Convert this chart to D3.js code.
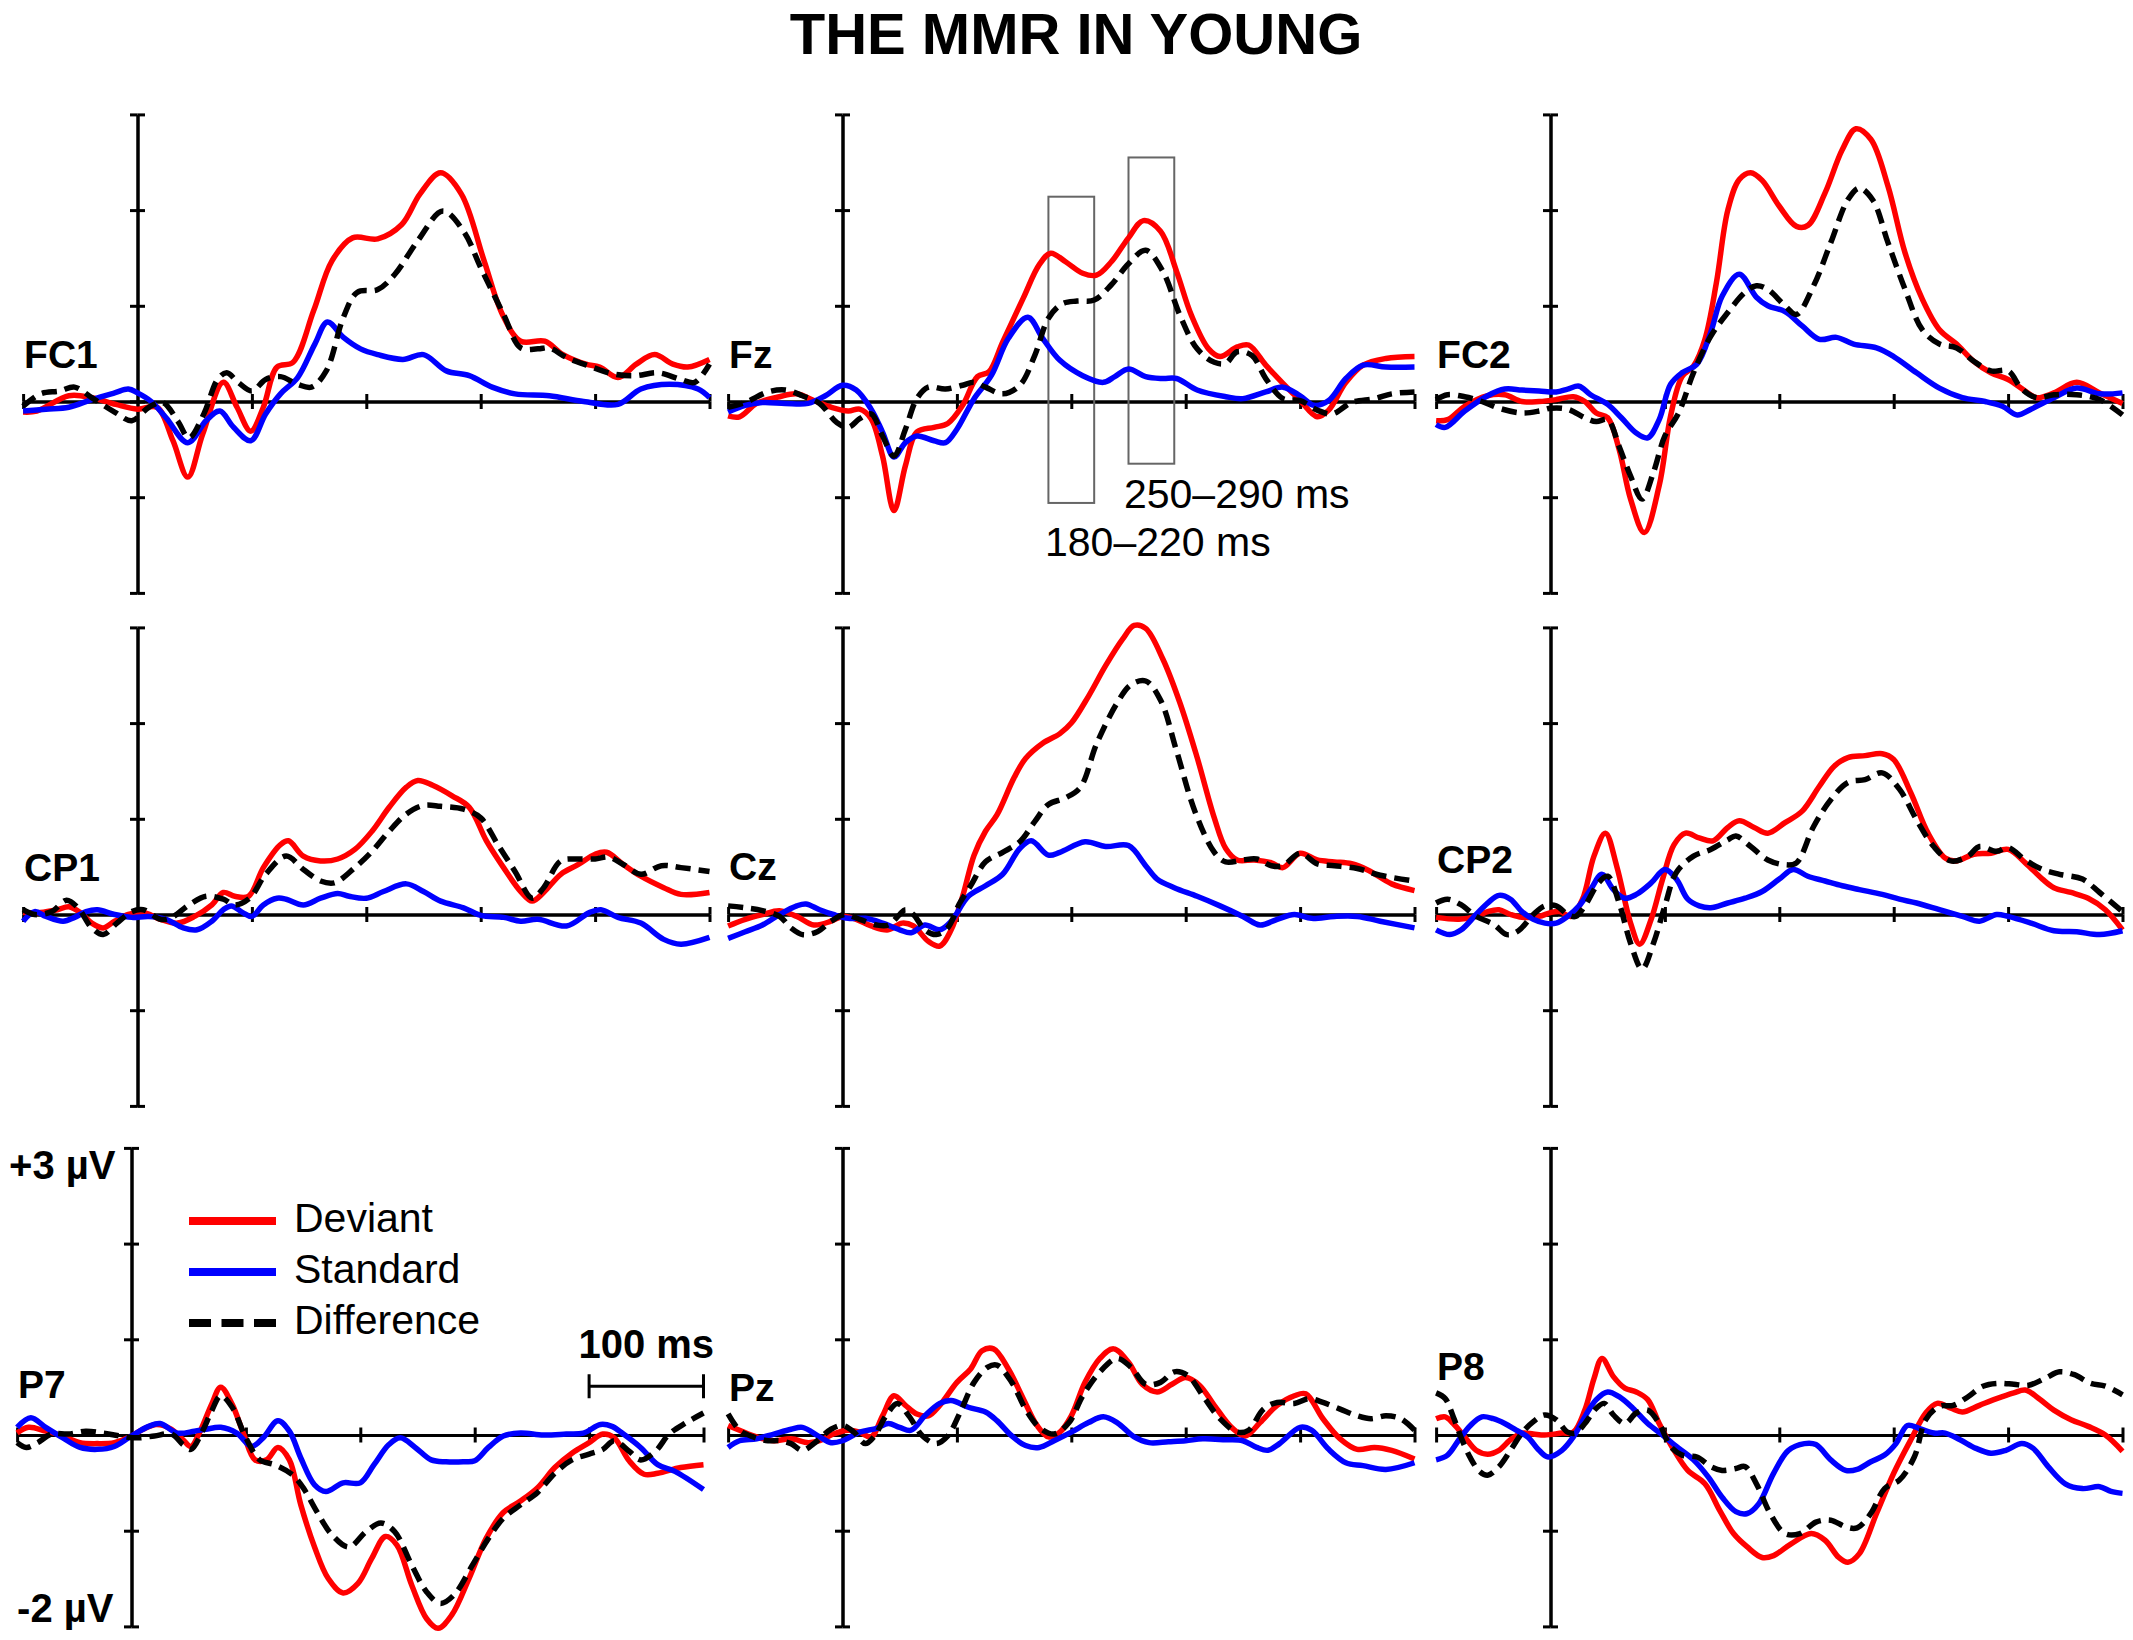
<!DOCTYPE html>
<html>
<head>
<meta charset="utf-8">
<script src="https://cdn.jsdelivr.net/npm/d3@7"></script>
<style>
  body { margin: 0; background: #fff; }
  text { font-family: 'Liberation Sans', Arial, sans-serif; }
</style>
</head>
<body>
<script>

// Channel names, in reading order (3 x 3 grid)
var channels = ['FC1', 'Fz', 'FC2', 'CP1', 'Cz', 'CP2', 'P7', 'Pz', 'P8'];

// Axis tick values
var timeTicks = [-100, 100, 200, 300, 400, 500];   // ms
var voltTicks = [-2, -1, 0, 1, 2, 3];              // µV

// Legend
var seriesNames = ['Deviant', 'Standard', 'Difference'];

// Analysis windows marked on Fz (ms) and their vertical extent (µV)
var windows = [[180, 220], [250, 290]];
var windowExtent = [[-1.06, 2.14], [-0.65, 2.55]];
var windowLabels = ['180–220 ms', '250–290 ms'];

// Waveforms: [time ms, amplitude µV]

var fc1Dev = [[-100,-0.11],[-88,-0.1],[-60,0.06],[-40,0.04],[-19,-0.03],[0,-0.08],[17,-0.06],[31,-0.41],[44,-0.79],[57,-0.34],[75,0.2],[87,-0.06],[99,-0.31],[110,-0.06],[122,0.36],[136,0.41],[154,0.95],[170,1.47],[188,1.71],[210,1.7],[231,1.85],[247,2.17],[265,2.39],[283,2.17],[303,1.47],[319,0.91],[335,0.63],[356,0.63],[372,0.49],[392,0.39],[404,0.36],[420,0.25],[436,0.39],[452,0.49],[468,0.39],[481,0.36],[500,0.44]];
var fc1Std = [[-100,-0.1],[-80,-0.08],[-60,-0.06],[-40,0.02],[-20,0.09],[-8,0.13],[0,0.09],[12,0],[25,-0.17],[44,-0.43],[60,-0.2],[72,-0.1],[84,-0.27],[99,-0.41],[112,-0.13],[125,0.08],[140,0.25],[155,0.6],[166,0.83],[180,0.67],[195,0.55],[210,0.49],[232,0.44],[250,0.49],[270,0.32],[290,0.27],[310,0.15],[330,0.08],[360,0.06],[390,0],[420,-0.03],[440,0.13],[465,0.18],[490,0.13],[500,0.04]];
var fc1Diff = [[-100,-0.05],[-85,0.08],[-68,0.11],[-55,0.15],[-40,0.04],[-20,-0.11],[-5,-0.2],[10,-0.06],[22,-0.01],[35,-0.2],[45,-0.38],[58,-0.13],[70,0.23],[78,0.3],[88,0.2],[100,0.11],[112,0.23],[125,0.26],[140,0.18],[152,0.15],[165,0.32],[180,0.88],[192,1.14],[210,1.17],[225,1.33],[245,1.68],[267,1.99],[285,1.78],[300,1.4],[320,0.91],[335,0.56],[350,0.55],[360,0.56],[375,0.46],[395,0.37],[415,0.29],[435,0.27],[455,0.3],[475,0.23],[487,0.2],[500,0.39]];

var fzDev = [[-100,-0.15],[-90,-0.16],[-75,-0.02],[-55,0.05],[-40,0.08],[-25,0.01],[-10,-0.06],[5,-0.1],[15,-0.08],[25,-0.18],[35,-0.57],[45,-1.14],[55,-0.67],[65,-0.32],[80,-0.27],[92,-0.23],[105,-0.04],[118,0.26],[128,0.31],[140,0.62],[158,1.08],[172,1.43],[182,1.55],[195,1.46],[210,1.34],[222,1.32],[235,1.46],[250,1.71],[263,1.89],[278,1.78],[292,1.36],[305,0.9],[320,0.55],[330,0.47],[345,0.57],[355,0.59],[370,0.38],[385,0.19],[400,0.01],[415,-0.16],[425,-0.09],[440,0.2],[455,0.38],[475,0.45],[500,0.47]];
var fzStd = [[-100,-0.11],[-85,-0.04],[-70,-0.01],[-50,-0.02],[-30,-0.02],[-15,0.06],[0,0.17],[12,0.12],[25,-0.08],[35,-0.32],[45,-0.58],[55,-0.43],[65,-0.36],[80,-0.41],[90,-0.43],[100,-0.29],[115,0.03],[130,0.27],[145,0.66],[162,0.88],[175,0.66],[190,0.43],[210,0.27],[228,0.2],[238,0.26],[250,0.34],[265,0.26],[280,0.24],[292,0.24],[310,0.12],[335,0.05],[350,0.03],[370,0.1],[385,0.15],[400,0.06],[412,-0.04],[425,0.01],[440,0.24],[455,0.38],[475,0.36],[500,0.36]];
var fzDiff = [[-100,-0.06],[-85,-0.01],[-65,0.1],[-50,0.12],[-35,0.06],[-20,-0.02],[-5,-0.22],[5,-0.27],[15,-0.18],[25,-0.13],[35,-0.36],[45,-0.57],[55,-0.29],[65,0.03],[75,0.15],[90,0.13],[105,0.17],[115,0.2],[125,0.15],[140,0.08],[155,0.17],[168,0.48],[180,0.87],[192,1.02],[205,1.05],[220,1.06],[235,1.22],[250,1.44],[265,1.58],[280,1.36],[295,0.9],[310,0.55],[325,0.41],[335,0.4],[345,0.52],[358,0.48],[370,0.24],[385,0.03],[400,0.01],[415,-0.09],[428,-0.13],[445,-0.01],[465,0.03],[480,0.08],[500,0.1]];

var fc2Dev = [[-100,-0.2],[-90,-0.19],[-75,-0.05],[-55,0.06],[-40,0.07],[-25,0],[-10,0],[5,0.02],[20,0.05],[30,0],[40,-0.12],[50,-0.17],[60,-0.5],[70,-1.02],[82,-1.37],[95,-0.88],[105,-0.15],[115,0.26],[125,0.37],[135,0.65],[145,1.24],[155,2.0],[165,2.32],[175,2.39],[185,2.31],[200,2.04],[215,1.83],[225,1.84],[240,2.18],[255,2.63],[267,2.85],[280,2.74],[295,2.25],[310,1.55],[325,1.07],[340,0.75],[355,0.6],[370,0.42],[385,0.3],[400,0.23],[415,0.11],[425,0.04],[440,0.09],[460,0.2],[480,0.09],[500,-0.02]];
var fc2Std = [[-100,-0.24],[-92,-0.27],[-75,-0.1],[-55,0.06],[-40,0.13],[-25,0.12],[-10,0.11],[5,0.1],[15,0.13],[25,0.16],[35,0.07],[50,-0.03],[62,-0.17],[75,-0.33],[85,-0.38],[95,-0.19],[105,0.18],[115,0.3],[128,0.39],[140,0.72],[150,1.1],[165,1.33],[180,1.09],[190,1.0],[205,0.94],[220,0.79],[235,0.65],[250,0.67],[265,0.6],[285,0.56],[300,0.47],[320,0.3],[340,0.14],[360,0.04],[380,0],[395,-0.05],[408,-0.14],[420,-0.08],[440,0.04],[460,0.14],[480,0.08],[500,0.09]];
var fc2Diff = [[-100,0.02],[-90,0.07],[-75,0.05],[-60,0],[-45,-0.07],[-25,-0.12],[-10,-0.1],[0,-0.07],[15,-0.08],[30,-0.17],[40,-0.21],[50,-0.19],[60,-0.47],[70,-0.78],[80,-1.02],[90,-0.74],[100,-0.36],[112,-0.12],[125,0.3],[140,0.68],[155,0.93],[170,1.14],[180,1.21],[190,1.17],[205,1.0],[215,0.91],[230,1.21],[245,1.66],[260,2.11],[270,2.23],[282,2.1],[295,1.66],[310,1.17],[325,0.75],[340,0.6],[355,0.56],[370,0.42],[385,0.32],[400,0.32],[412,0.13],[425,0.04],[440,0.07],[460,0.07],[480,0.02],[500,-0.14]];

var cp1Dev = [[-100,0.02],[-85,0.02],[-70,0.05],[-60,0.08],[-50,0.02],[-40,-0.09],[-30,-0.14],[-20,-0.07],[-8,0],[5,0.02],[20,-0.05],[35,-0.09],[50,-0.02],[65,0.1],[75,0.23],[85,0.19],[97,0.19],[110,0.49],[125,0.73],[132,0.77],[145,0.61],[160,0.56],[175,0.58],[190,0.68],[205,0.87],[220,1.12],[235,1.33],[245,1.4],[258,1.35],[275,1.24],[290,1.12],[305,0.77],[320,0.49],[335,0.24],[345,0.14],[355,0.23],[370,0.42],[385,0.52],[400,0.63],[410,0.65],[425,0.52],[440,0.4],[460,0.28],[475,0.21],[500,0.23]];
var cp1Std = [[-100,-0.07],[-90,0.03],[-80,-0.02],[-65,-0.07],[-55,-0.03],[-45,0.03],[-35,0.05],[-20,0],[-5,-0.03],[10,-0.02],[25,-0.05],[40,-0.14],[52,-0.16],[65,-0.07],[75,0.05],[82,0.09],[92,0.02],[100,-0.02],[110,0.1],[122,0.17],[130,0.16],[145,0.1],[160,0.17],[175,0.22],[185,0.19],[200,0.17],[215,0.24],[235,0.32],[250,0.24],[265,0.14],[285,0.07],[300,-0.01],[320,-0.03],[335,-0.07],[350,-0.05],[375,-0.12],[395,0.02],[405,0.05],[420,-0.03],[440,-0.09],[460,-0.26],[475,-0.31],[500,-0.24]];
var cp1Diff = [[-100,0.05],[-90,0],[-75,0.03],[-62,0.15],[-52,0.07],[-40,-0.14],[-30,-0.21],[-18,-0.09],[-5,0.03],[5,0.05],[20,-0.05],[30,-0.03],[45,0.1],[60,0.19],[75,0.16],[85,0.1],[98,0.17],[112,0.42],[130,0.61],[145,0.47],[160,0.35],[172,0.33],[190,0.49],[205,0.66],[220,0.87],[235,1.05],[250,1.14],[265,1.13],[285,1.1],[300,1.01],[315,0.73],[330,0.45],[345,0.17],[355,0.28],[370,0.56],[385,0.58],[400,0.58],[412,0.6],[425,0.52],[440,0.42],[458,0.51],[475,0.49],[500,0.45]];

var czDev = [[-100,-0.12],[-85,-0.05],[-70,0],[-55,0.04],[-40,-0.02],[-25,-0.11],[-10,-0.07],[0,-0.02],[12,-0.05],[25,-0.12],[40,-0.16],[52,-0.09],[62,-0.12],[75,-0.28],[85,-0.33],[95,-0.16],[105,0.19],[115,0.62],[125,0.87],[135,1.04],[150,1.43],[160,1.63],[175,1.79],[190,1.89],[200,2.0],[215,2.28],[230,2.6],[245,2.88],[255,3.02],[265,2.99],[280,2.67],[295,2.21],[310,1.64],[325,1.01],[335,0.69],[345,0.57],[360,0.57],[375,0.54],[385,0.49],[400,0.64],[415,0.57],[430,0.55],[445,0.53],[460,0.46],[480,0.32],[500,0.25]];
var czStd = [[-100,-0.25],[-85,-0.18],[-70,-0.11],[-55,0],[-40,0.09],[-32,0.11],[-20,0.05],[-8,0],[5,-0.04],[20,-0.04],[35,-0.09],[50,-0.16],[60,-0.19],[72,-0.11],[85,-0.16],[95,-0.07],[110,0.19],[125,0.3],[140,0.42],[155,0.69],[165,0.77],[180,0.62],[190,0.65],[212,0.76],[230,0.71],[250,0.72],[265,0.51],[275,0.37],[290,0.28],[310,0.19],[330,0.09],[350,-0.02],[365,-0.11],[380,-0.05],[395,0],[410,-0.04],[430,-0.02],[450,-0.02],[470,-0.07],[500,-0.14]];
var czDiff = [[-100,0.09],[-85,0.07],[-70,0.04],[-55,-0.02],[-45,-0.14],[-35,-0.21],[-22,-0.18],[-10,-0.07],[2,0],[15,-0.05],[30,-0.11],[40,-0.11],[50,0],[55,0.05],[62,0],[72,-0.16],[82,-0.21],[92,-0.14],[102,0.11],[112,0.3],[125,0.55],[140,0.65],[155,0.76],[168,0.97],[180,1.15],[195,1.22],[208,1.33],[222,1.78],[240,2.21],[252,2.4],[265,2.44],[278,2.24],[292,1.71],[308,1.08],[325,0.65],[335,0.55],[350,0.57],[362,0.58],[375,0.51],[385,0.51],[400,0.64],[415,0.53],[430,0.51],[450,0.48],[470,0.41],[500,0.35]];

var cp2Dev = [[-100,-0.03],[-80,-0.05],[-65,-0.02],[-55,0.03],[-45,0.05],[-35,0],[-25,-0.03],[-10,-0.02],[0,0.02],[8,0.03],[18,-0.02],[28,0.16],[38,0.61],[48,0.85],[58,0.5],[70,-0.09],[78,-0.31],[88,-0.05],[98,0.37],[108,0.73],[118,0.85],[130,0.8],[142,0.77],[155,0.91],[165,0.98],[178,0.91],[190,0.85],[205,0.96],[220,1.08],[235,1.34],[248,1.55],[260,1.64],[275,1.66],[290,1.68],[300,1.62],[315,1.27],[330,0.85],[345,0.59],[355,0.56],[370,0.63],[385,0.64],[400,0.68],[415,0.54],[430,0.37],[440,0.28],[455,0.23],[470,0.17],[485,0.05],[500,-0.16]];
var cp2Std = [[-100,-0.16],[-88,-0.21],[-78,-0.16],[-65,0],[-55,0.12],[-45,0.2],[-35,0.16],[-25,0.03],[-15,-0.05],[-5,-0.09],[5,-0.09],[15,-0.02],[25,0.09],[35,0.26],[45,0.42],[55,0.26],[65,0.17],[75,0.21],[88,0.33],[100,0.47],[110,0.37],[120,0.16],[130,0.09],[140,0.07],[155,0.12],[170,0.17],[185,0.24],[200,0.37],[212,0.47],[225,0.4],[240,0.35],[255,0.3],[270,0.26],[290,0.21],[305,0.16],[320,0.12],[340,0.05],[360,-0.02],[375,-0.07],[390,0],[400,-0.02],[420,-0.09],[440,-0.17],[460,-0.18],[480,-0.21],[500,-0.17]];
var cp2Diff = [[-100,0.12],[-90,0.16],[-78,0.1],[-65,-0.02],[-50,-0.1],[-38,-0.21],[-28,-0.17],[-15,0],[-5,0.09],[5,0.09],[15,0],[22,-0.02],[30,0.09],[42,0.33],[50,0.4],[60,0.12],[70,-0.3],[80,-0.57],[90,-0.3],[100,0.09],[110,0.44],[125,0.61],[140,0.68],[155,0.78],[162,0.82],[175,0.71],[190,0.57],[205,0.52],[215,0.54],[230,0.92],[245,1.2],[260,1.38],[275,1.41],[290,1.48],[305,1.31],[320,0.99],[335,0.71],[350,0.56],[365,0.61],[375,0.71],[390,0.66],[400,0.7],[415,0.57],[430,0.47],[445,0.42],[465,0.37],[480,0.23],[500,0.03]];

var p7Dev = [[-100,0.02],[-90,0.08],[-75,0.04],[-60,-0.01],[-45,-0.08],[-30,-0.09],[-15,-0.08],[0,-0.01],[10,0.06],[22,0.11],[35,0.06],[45,-0.05],[52,-0.12],[60,0.04],[70,0.32],[78,0.5],[88,0.32],[98,0.01],[108,-0.26],[118,-0.26],[128,-0.13],[138,-0.26],[148,-0.73],[160,-1.17],[172,-1.5],[185,-1.65],[198,-1.55],[210,-1.29],[222,-1.06],[232,-1.15],[245,-1.57],[258,-1.92],[268,-2.02],[280,-1.88],[295,-1.5],[310,-1.08],[325,-0.81],[340,-0.69],[355,-0.55],[370,-0.34],[385,-0.19],[400,-0.08],[412,0.01],[422,-0.03],[435,-0.27],[448,-0.41],[460,-0.4],[480,-0.34],[500,-0.31]];
var p7Std = [[-100,0.08],[-88,0.18],[-75,0.08],[-60,-0.03],[-45,-0.13],[-30,-0.15],[-15,-0.12],[0,-0.01],[15,0.09],[25,0.12],[40,0.02],[55,0.04],[65,0.06],[78,0.08],[92,0.02],[105,-0.12],[115,-0.03],[128,0.15],[138,0.04],[148,-0.24],[160,-0.52],[170,-0.59],[185,-0.5],[200,-0.5],[212,-0.31],[225,-0.1],[235,-0.03],[248,-0.13],[262,-0.26],[275,-0.28],[290,-0.28],[300,-0.27],[312,-0.13],[325,-0.01],[340,0.02],[360,0],[380,0.01],[395,0.02],[410,0.11],[420,0.09],[430,0.01],[445,-0.13],[460,-0.31],[475,-0.38],[500,-0.57]];
var p7Diff = [[-100,-0.08],[-92,-0.13],[-82,-0.08],[-70,0.01],[-55,0.01],[-40,0.04],[-25,0.02],[-10,-0.01],[5,-0.03],[20,-0.01],[35,0.01],[45,-0.1],[52,-0.15],[62,0.04],[70,0.25],[78,0.41],[88,0.29],[100,-0.03],[112,-0.26],[125,-0.31],[140,-0.41],[150,-0.55],[162,-0.8],[175,-1.04],[190,-1.17],[205,-1.01],[218,-0.92],[230,-1.01],[245,-1.36],[258,-1.64],[270,-1.76],[282,-1.67],[298,-1.36],[312,-1.08],[325,-0.87],[340,-0.73],[355,-0.6],[370,-0.4],[385,-0.26],[400,-0.2],[412,-0.15],[422,-0.06],[435,-0.17],[445,-0.26],[458,-0.17],[470,0.01],[485,0.13],[500,0.23]];

var pzDev = [[-100,0.1],[-90,0.05],[-75,-0.02],[-60,-0.06],[-45,-0.04],[-30,-0.08],[-20,-0.06],[-8,0.01],[5,0.05],[15,0.03],[25,-0.02],[35,0.2],[45,0.41],[55,0.31],[65,0.22],[75,0.2],[85,0.31],[100,0.55],[112,0.69],[122,0.88],[132,0.9],[145,0.69],[158,0.38],[170,0.1],[180,-0.02],[190,0.03],[200,0.2],[212,0.55],[225,0.8],[237,0.9],[250,0.76],[262,0.53],[275,0.45],[288,0.53],[300,0.6],[312,0.52],[325,0.31],[340,0.08],[352,-0.01],[365,0.13],[380,0.31],[395,0.41],[405,0.43],[420,0.17],[435,-0.04],[450,-0.15],[465,-0.13],[480,-0.16],[500,-0.25]];
var pzStd = [[-100,-0.13],[-90,-0.06],[-75,-0.04],[-60,0.01],[-45,0.06],[-35,0.08],[-20,-0.02],[-10,-0.08],[0,-0.06],[15,0.03],[30,0.07],[40,0.12],[50,0.08],[60,0.05],[72,0.2],[85,0.33],[95,0.36],[110,0.29],[125,0.24],[135,0.15],[148,-0.01],[160,-0.11],[172,-0.13],[185,-0.06],[200,0.03],[215,0.13],[228,0.19],[240,0.13],[255,-0.02],[268,-0.08],[285,-0.07],[300,-0.06],[315,-0.04],[335,-0.05],[350,-0.06],[362,-0.13],[372,-0.16],[382,-0.09],[400,0.08],[410,0.05],[425,-0.15],[440,-0.29],[455,-0.32],[475,-0.36],[500,-0.29]];
var pzDiff = [[-100,0.22],[-90,0.05],[-78,-0.02],[-65,-0.06],[-55,-0.06],[-45,-0.09],[-35,-0.16],[-25,-0.09],[-10,0.06],[0,0.1],[10,0.03],[20,-0.09],[28,-0.01],[38,0.2],[48,0.33],[58,0.2],[70,-0.01],[82,-0.09],[92,-0.01],[103,0.24],[115,0.55],[127,0.71],[135,0.73],[148,0.55],[160,0.27],[172,0.08],[185,0.01],[198,0.13],[210,0.41],[225,0.66],[240,0.8],[252,0.71],[265,0.53],[278,0.55],[290,0.66],[302,0.62],[315,0.41],[330,0.17],[345,0.03],[355,0.05],[368,0.27],[380,0.34],[395,0.33],[408,0.38],[420,0.34],[435,0.27],[450,0.2],[462,0.17],[475,0.2],[488,0.17],[500,0.05]];

var p8Dev = [[-100,0.17],[-92,0.19],[-85,0.12],[-75,-0.02],[-65,-0.16],[-55,-0.2],[-45,-0.16],[-35,-0.05],[-25,0.02],[-15,0.01],[-5,0],[10,0.02],[20,0.03],[30,0.26],[38,0.59],[45,0.8],[55,0.61],[65,0.49],[75,0.45],[85,0.37],[95,0.12],[108,-0.16],[120,-0.37],[135,-0.51],[148,-0.79],[160,-1.03],[172,-1.17],[185,-1.28],[195,-1.26],[210,-1.14],[228,-1.03],[240,-1.1],[252,-1.28],[260,-1.33],[270,-1.24],[285,-0.82],[300,-0.4],[315,-0.05],[328,0.23],[338,0.33],[350,0.28],[360,0.24],[375,0.31],[390,0.38],[405,0.44],[415,0.47],[428,0.37],[440,0.26],[455,0.16],[470,0.09],[485,0],[500,-0.17]];
var p8Std = [[-100,-0.26],[-90,-0.21],[-80,-0.05],[-70,0.1],[-60,0.19],[-50,0.17],[-40,0.12],[-30,0.05],[-20,-0.02],[-10,-0.16],[-2,-0.23],[10,-0.16],[20,-0.02],[30,0.19],[40,0.37],[50,0.45],[60,0.4],[72,0.28],[85,0.12],[98,0],[110,-0.12],[125,-0.26],[138,-0.44],[150,-0.65],[162,-0.8],[172,-0.82],[182,-0.72],[195,-0.4],[208,-0.16],[222,-0.09],[232,-0.1],[245,-0.26],[258,-0.37],[268,-0.36],[280,-0.28],[292,-0.21],[302,-0.09],[312,0.1],[322,0.07],[335,0.02],[345,0.02],[358,-0.05],[372,-0.14],[385,-0.19],[398,-0.16],[412,-0.09],[422,-0.14],[435,-0.33],[450,-0.51],[465,-0.56],[480,-0.54],[490,-0.59],[500,-0.61]];
var p8Diff = [[-100,0.44],[-92,0.38],[-85,0.19],[-78,-0.03],[-70,-0.24],[-62,-0.38],[-55,-0.42],[-45,-0.33],[-35,-0.16],[-25,0.02],[-15,0.14],[-5,0.21],[5,0.16],[15,0.03],[22,0.02],[30,0.12],[40,0.28],[47,0.33],[55,0.21],[65,0.12],[75,0.23],[85,0.26],[95,0.12],[105,-0.12],[115,-0.21],[128,-0.23],[140,-0.33],[150,-0.37],[162,-0.35],[170,-0.33],[180,-0.51],[192,-0.82],[205,-1.03],[218,-1.03],[232,-0.91],[245,-0.89],[258,-0.96],[268,-0.97],[280,-0.82],[292,-0.56],[305,-0.47],[318,-0.23],[328,0.16],[340,0.3],[352,0.31],[365,0.4],[378,0.51],[392,0.54],[405,0.53],[418,0.52],[432,0.59],[445,0.66],[458,0.63],[472,0.54],[485,0.51],[500,0.42]];

var waves = {
  FC1: [fc1Dev, fc1Std, fc1Diff],
  Fz:  [fzDev,  fzStd,  fzDiff],
  FC2: [fc2Dev, fc2Std, fc2Diff],
  CP1: [cp1Dev, cp1Std, cp1Diff],
  Cz:  [czDev,  czStd,  czDiff],
  CP2: [cp2Dev, cp2Std, cp2Diff],
  P7:  [p7Dev,  p7Std,  p7Diff],
  Pz:  [pzDev,  pzStd,  pzDiff],
  P8:  [p8Dev,  p8Std,  p8Diff]
};

//Sets dimensions
var width = 2133,
  height = 1640;

var msPx = 114.4,   // pixels per 100 ms
  uvPx = 95.7;      // pixels per µV

var colZero = [137.5, 842.5, 1550.5],
  rowZero = [401.5, 914.5, 1435];

// label baseline offset above the zero line, per panel
var labelRise = { FC1: 34, Fz: 34, FC2: 34, CP1: 34, Cz: 35, CP2: 42, P7: 37, Pz: 34, P8: 55 };

var colors = ['#ff0000', '#0000ff', '#000000'];

var svg = d3.select('body')
  .append('svg')
  .attr('width', width)
  .attr('height', height);

svg.append('rect')
  .attr('width', width)
  .attr('height', height)
  .attr('fill', '#fff');

//Title
svg.append('text')
  .attr('x', 1076)
  .attr('y', 54)
  .attr('text-anchor', 'middle')
  .style('font-size', '58px')
  .style('font-weight', 'bold')
  .text('THE MMR IN YOUNG');

var scales = {};

channels.forEach(function(name, i) {
  var col = i % 3,
    row = Math.floor(i / 3);

  var x0 = colZero[col] + (name === 'P7' ? -6 : 0),
    y0 = rowZero[row];

  var x = d3.scaleLinear().domain([-100, 500]).range([x0 - msPx, x0 + 5 * msPx]);
  var y = d3.scaleLinear().domain([-2, 3]).range([y0 + 2 * uvPx, y0 - 3 * uvPx]);
  scales[name] = { x: x, y: y };

  var g = svg.append('g');

  // axes: ticks on both sides of each line
  [d3.axisBottom, d3.axisTop].forEach(function(ax) {
    g.append('g')
      .attr('class', 'axis')
      .attr('transform', 'translate(0,' + y(0) + ')')
      .call(ax(x).tickValues(timeTicks).tickSize(7.5).tickSizeOuter(0).tickFormat(''));
  });
  [d3.axisLeft, d3.axisRight].forEach(function(ax) {
    g.append('g')
      .attr('class', 'axis')
      .attr('transform', 'translate(' + x(0) + ',0)')
      .call(ax(y).tickValues(voltTicks).tickSize(7.5).tickSizeOuter(0).tickFormat(''));
  });

  // analysis windows on Fz
  if (name === 'Fz') {
    windows.forEach(function(w, k) {
      g.append('rect')
        .attr('x', x(w[0]))
        .attr('y', y(windowExtent[k][1]))
        .attr('width', x(w[1]) - x(w[0]))
        .attr('height', y(windowExtent[k][0]) - y(windowExtent[k][1]))
        .attr('fill', 'none')
        .attr('stroke', '#666')
        .attr('stroke-width', 2);
    });
    g.append('text')
      .attr('x', x(177))
      .attr('y', y(-1.61))
      .style('font-size', '41px')
      .text(windowLabels[0]);
    g.append('text')
      .attr('x', x(246))
      .attr('y', y(-1.11))
      .style('font-size', '41px')
      .text(windowLabels[1]);
  }

  var line = d3.line()
    .x(function(d) { return x(d[0]); })
    .y(function(d) { return y(d[1]); })
    .curve(d3.curveCatmullRom.alpha(0.5));

  waves[name].forEach(function(series, k) {
    g.append('path')
      .datum(series)
      .attr('d', line)
      .attr('fill', 'none')
      .attr('stroke', colors[k])
      .attr('stroke-width', 5.5)
      .attr('stroke-linejoin', 'round')
      .attr('stroke-dasharray', k === 2 ? '15,8' : null);
  });

  // channel label
  g.append('text')
    .attr('x', x(-100) + 1)
    .attr('y', y0 - labelRise[name])
    .style('font-size', '39px')
    .style('font-weight', 'bold')
    .text(name);
});

svg.selectAll('.axis path, .axis line')
  .attr('stroke', '#000')
  .attr('stroke-width', 3);

// Amplitude labels and time scale bar on P7
var px = scales.P7.x,
  py = scales.P7.y;

svg.append('text')
  .attr('x', px(0) - 16)
  .attr('y', py(3) + 31)
  .attr('text-anchor', 'end')
  .style('font-size', '40px')
  .style('font-weight', 'bold')
  .text('+3 µV');

svg.append('text')
  .attr('x', px(0) - 18)
  .attr('y', py(-2) - 4)
  .attr('text-anchor', 'end')
  .style('font-size', '40px')
  .style('font-weight', 'bold')
  .text('-2 µV');

var barY = py(0.51);
svg.append('path')
  .attr('d', 'M' + px(400) + ',' + (barY - 12) + 'V' + (barY + 12) +
    'M' + px(400) + ',' + barY + 'H' + px(500) +
    'M' + px(500) + ',' + (barY - 12) + 'V' + (barY + 12))
  .attr('fill', 'none')
  .attr('stroke', '#000')
  .attr('stroke-width', 3);

svg.append('text')
  .attr('x', px(450))
  .attr('y', py(0.8))
  .attr('text-anchor', 'middle')
  .style('font-size', '40px')
  .style('font-weight', 'bold')
  .text('100 ms');

// Legend
var legend = svg.append('g').attr('transform', 'translate(189,1221)');

seriesNames.forEach(function(s, k) {
  legend.append('line')
    .attr('x1', 0)
    .attr('x2', 87)
    .attr('y1', k * 51)
    .attr('y2', k * 51)
    .attr('stroke', colors[k])
    .attr('stroke-width', 8)
    .attr('stroke-dasharray', k === 2 ? '22,10.5' : null);
  legend.append('text')
    .attr('x', 105)
    .attr('y', k * 51 + 11)
    .style('font-size', '41px')
    .text(s);
});

</script>
</body>
</html>
